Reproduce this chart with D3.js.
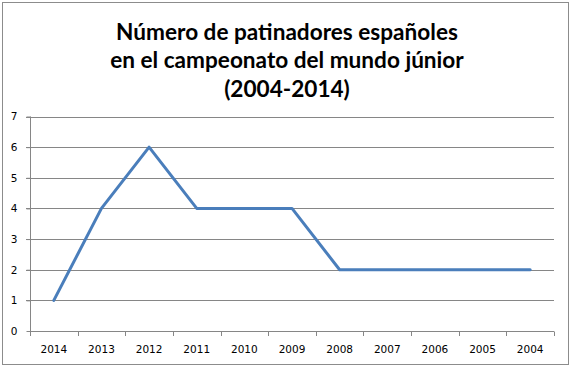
<!DOCTYPE html>
<html><head><meta charset="utf-8">
<script src="https://cdn.jsdelivr.net/npm/d3@7"></script>
<style>body{margin:0;background:#fff}svg{display:block}</style>
</head><body>
<script>
const titleLines = ["Número de patinadores españoles", "en el campeonato del mundo júnior", "(2004-2014)"];
const years = ["2014","2013","2012","2011","2010","2009","2008","2007","2006","2005","2004"];
const skaters = [1,4,6,4,4,4,2,2,2,2,2];
const yTicks = [0,1,2,3,4,5,6,7];

(function(){
const W = 572, H = 368;
const svg = d3.select("body").append("svg").attr("width", W).attr("height", H);
svg.append("rect").attr("x",2.5).attr("y",2.5).attr("width",566).attr("height",362)
  .attr("fill","#fff").attr("stroke","#8c8c8c").attr("stroke-width",1);

const pLeft = 30, pRight = 554, pTop = 116.5, pBottom = 331;
const x = d3.scaleBand().domain(years).range([pLeft, pRight]).paddingInner(0).paddingOuter(0);
const y = d3.scaleLinear().domain([0,7]).range([pBottom, pTop]);

svg.append("g").selectAll("text").data(titleLines).join("text")
  .attr("x", 287).attr("y", (d,i)=>39.5 + i*28.5)
  .attr("text-anchor","middle")
  .attr("font-family","Lato, 'Open Sans', sans-serif").attr("font-weight","bold")
  .attr("font-size",22.6).attr("fill","#000").text(d=>d);

svg.append("g").selectAll("line").data(yTicks.filter(t=>t>0)).join("line")
  .attr("x1", pLeft-4).attr("x2", pRight)
  .attr("y1", d=>Math.round(y(d))+0.5).attr("y2", d=>Math.round(y(d))+0.5)
  .attr("stroke","#868686").attr("stroke-width",1);

const yAxis = svg.append("g").attr("transform",`translate(${pLeft+0.5},0)`)
  .call(d3.axisLeft(y).tickValues(yTicks).tickSize(4).tickPadding(9).tickFormat(d3.format("d")));
yAxis.selectAll("path, line").attr("stroke","#868686");
yAxis.selectAll("text").attr("font-family","'DejaVu Sans', sans-serif").attr("font-size",10.5).attr("fill","#000");
yAxis.select(".domain").attr("d", `M0,${y(7)}V${pBottom}`);

const xAxis = svg.append("g").attr("transform",`translate(0,${Math.round(pBottom)+0.5})`)
  .call(d3.axisBottom(x).tickSize(0).tickPadding(14));
xAxis.select(".domain").attr("stroke","#868686").attr("d", `M${pLeft},0H${pRight}`);
xAxis.selectAll("text").attr("font-family","'DejaVu Sans', sans-serif").attr("font-size",10.5).attr("fill","#000");
const bounds = years.map(d=>x(d)).concat([pRight]);
svg.append("g").selectAll("line").data(bounds).join("line")
  .attr("x1", d=>Math.round(d)+0.5).attr("x2", d=>Math.round(d)+0.5)
  .attr("y1", Math.round(pBottom)+0.5).attr("y2", Math.round(pBottom)+5)
  .attr("stroke","#868686");

const line = d3.line().x((d,i)=>x(years[i])+x.bandwidth()/2).y(d=>y(d));
svg.append("path").datum(skaters).attr("d", line)
  .attr("fill","none").attr("stroke","#4a7ebb").attr("stroke-width",3)
  .attr("stroke-linejoin","round").attr("stroke-linecap","round");
})();
</script>
</body></html>
